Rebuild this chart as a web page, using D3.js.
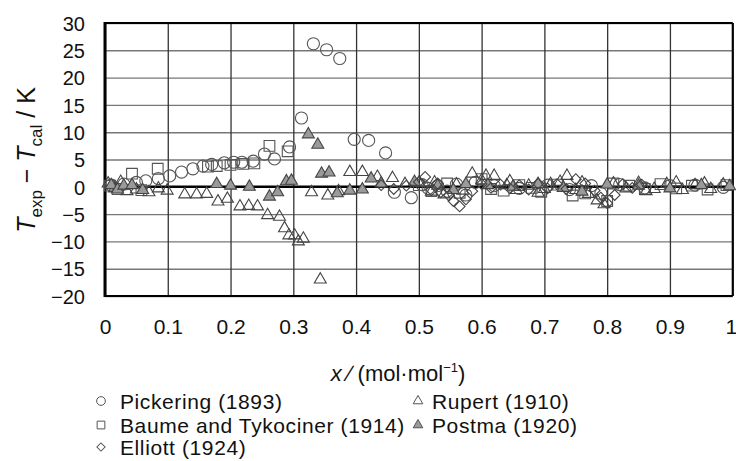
<!DOCTYPE html>
<html>
<head>
<meta charset="utf-8">
<script src="https://cdn.jsdelivr.net/npm/d3@7"></script>
<style>
  body { margin: 0; background: #fff; }
  text { font-family: "Liberation Sans", Arial, sans-serif; fill: #111; }
</style>
</head>
<body>
<script>
// data: [x (mol/mol), Texp - Tcal (K)]
var pickering = [[0.01,0.3],[0.03,0.5],[0.05,0.8],[0.065,1.1],[0.085,1.5],[0.103,2.0],[0.122,2.7],[0.14,3.3],
  [0.156,3.8],[0.17,4.1],[0.19,4.4],[0.205,4.5],[0.218,4.5],[0.236,4.7],[0.254,6.0],[0.27,5.1],[0.294,7.3],
  [0.313,12.6],[0.332,26.2],[0.353,25.1],[0.374,23.5],[0.397,8.7],[0.42,8.5],[0.447,6.2],[0.461,-1.0],[0.488,-2.0],
  [0.505,0.4],[0.515,-0.3],[0.53,0.2],[0.545,-0.8],[0.56,0.5],[0.575,-1.5],[0.59,0.8],[0.62,0.2],[0.66,-0.3],
  [0.705,0.3],[0.74,-0.5],[0.775,0.2],[0.79,-1.2],[0.82,0.4],[0.86,-0.2],[0.9,0.2],[0.94,0.3],[0.985,-0.1]];
var baume = [[0.008,0.2],[0.02,-0.4],[0.043,2.4],[0.058,-0.6],[0.084,3.3],[0.164,3.7],[0.178,3.8],[0.2,4.0],
  [0.22,4.2],[0.238,4.3],[0.262,7.5],[0.291,6.5],[0.5,0.3],[0.52,-0.8],[0.545,0.6],[0.565,-1.1],[0.6,1.4],
  [0.615,-0.4],[0.635,-0.7],[0.66,0.3],[0.68,-0.2],[0.695,-0.9],[0.72,0.4],[0.745,-1.6],[0.765,-1.2],
  [0.8,-2.6],[0.81,0.6],[0.835,0.2],[0.86,-0.4],[0.885,0.5],[0.91,-0.3],[0.935,0.2],[0.96,-0.5],[0.99,0.3]];
var rupert = [[0.005,0.6],[0.015,-0.3],[0.025,0.9],[0.035,-0.8],[0.05,-0.5],[0.07,-1.0],[0.085,-0.3],[0.099,-0.7],
  [0.127,-1.4],[0.146,-1.4],[0.162,-1.3],[0.18,-2.7],[0.195,-2.2],[0.215,-3.6],[0.229,-3.5],[0.243,-3.6],
  [0.259,-5.2],[0.278,-5.5],[0.286,-7.6],[0.293,-8.9],[0.302,-8.9],[0.308,-10.0],[0.316,-9.5],[0.329,-1.0],
  [0.343,-17.0],[0.355,-1.6],[0.372,-0.8],[0.39,2.7],[0.41,2.7],[0.434,1.8],[0.458,1.6],[0.478,0.5],[0.5,0.7],
  [0.52,-0.9],[0.54,-1.4],[0.56,0.4],[0.585,2.4],[0.6,1.2],[0.607,2.0],[0.62,2.0],[0.64,0.3],[0.655,-0.6],
  [0.675,0.2],[0.69,-1.1],[0.71,0.5],[0.736,2.0],[0.75,-0.6],[0.77,-1.3],[0.784,-2.5],[0.795,-3.2],[0.81,0.6],
  [0.83,-0.3],[0.85,0.7],[0.875,-0.4],[0.895,0.5],[0.92,-0.6],[0.94,0.3],[0.965,-0.4],[0.985,0.4],
  [0.525,0.8],[0.57,-0.7],[0.645,1.0],[0.7,-0.4],[0.725,0.9],[0.76,0.8],[0.862,-0.8],[0.91,0.8],[0.955,0.6]];
var postma = [[0.01,0.3],[0.02,-0.5],[0.03,0.2],[0.043,0.3],[0.06,-0.6],[0.178,0.5],[0.2,0.2],[0.23,0.0],
  [0.262,-1.8],[0.275,-1.0],[0.289,1.0],[0.297,1.1],[0.324,9.6],[0.339,7.7],[0.345,2.4],[0.357,2.6],[0.37,-1.2],
  [0.39,-0.7],[0.41,-0.5],[0.424,1.5],[0.44,0.6],[0.493,0.9],[0.53,0.2],[0.555,-0.6],[0.575,0.5],[0.61,0.3],
  [0.65,0.0],[0.69,0.5],[0.73,-0.2],[0.76,-0.9],[0.8,0.4],[0.85,0.2],[0.9,-0.3],[0.95,0.3],[0.995,0.1]];
var elliott = [[0.44,0.3],[0.46,-0.4],[0.48,0.2],[0.5,0.9],[0.51,1.8],[0.52,-0.6],[0.53,0.6],[0.535,-1.0],
  [0.548,-1.6],[0.555,-2.6],[0.565,-3.6],[0.575,-2.3],[0.585,-0.8],[0.6,0.5],[0.615,-0.2],[0.63,0.4],[0.645,-0.3],
  [0.66,0.3],[0.675,-0.5],[0.69,0.6],[0.705,-0.3],[0.72,0.5],[0.735,-0.4],[0.75,1.4],[0.765,0.6],[0.78,-0.7],
  [0.79,-2.0],[0.8,-3.0],[0.812,-1.5],[0.825,0.5],[0.84,-0.2],[0.855,0.4]];

var legendRows = [
  { name: "Pickering (1893)", sym: "circle", col: 0, row: 0 },
  { name: "Rupert (1910)", sym: "tri", col: 1, row: 0 },
  { name: "Baume and Tykociner (1914)", sym: "square", col: 0, row: 1 },
  { name: "Postma (1920)", sym: "triFill", col: 1, row: 1 },
  { name: "Elliott (1924)", sym: "diamond", col: 0, row: 2 }
];

var W = 736, H = 461;
var x0 = 105, x1 = 732.7, yTop = 23, yBot = 296;

var svg = d3.select("body").append("svg").attr("width", W).attr("height", H);

var x = d3.scaleLinear().domain([0, 1]).range([x0, x1]);
var y = d3.scaleLinear().domain([-20, 30]).range([yBot, yTop]);

// horizontal grid
svg.append("g")
  .attr("transform", "translate(" + x0 + ",0)")
  .call(d3.axisLeft(y).tickValues(d3.range(-20, 31, 5)).tickSize(-(x1 - x0)).tickFormat(""))
  .call(function(g) {
    g.select(".domain").remove();
    g.selectAll("line").attr("stroke", "#777").attr("stroke-width", 1.4);
  });

// vertical grid
svg.append("g")
  .attr("transform", "translate(0," + yBot + ")")
  .call(d3.axisBottom(x).tickValues(d3.range(0, 1.01, 0.1)).tickSize(-(yBot - yTop)).tickFormat(""))
  .call(function(g) {
    g.select(".domain").remove();
    g.selectAll("line").attr("stroke", "#333").attr("stroke-width", 1.3);
  });

// frame
svg.append("line").attr("x1", x0).attr("x2", x0).attr("y1", yTop - 1).attr("y2", yBot + 1)
  .attr("stroke", "#000").attr("stroke-width", 3);
svg.append("line").attr("x1", x0).attr("x2", x1).attr("y1", yTop).attr("y2", yTop)
  .attr("stroke", "#000").attr("stroke-width", 2);
svg.append("line").attr("x1", x0).attr("x2", x1).attr("y1", yBot).attr("y2", yBot)
  .attr("stroke", "#000").attr("stroke-width", 1.8);
svg.append("line").attr("x1", x1).attr("x2", x1).attr("y1", yTop).attr("y2", yBot)
  .attr("stroke", "#000").attr("stroke-width", 2);
// zero line
svg.append("line").attr("x1", x0).attr("x2", x1).attr("y1", y(0)).attr("y2", y(0))
  .attr("stroke", "#000").attr("stroke-width", 2.6);

// tick labels
svg.append("g")
  .attr("transform", "translate(" + (x0 - 20) + ",0)")
  .call(d3.axisLeft(y).tickValues(d3.range(-20, 31, 5)).tickSize(0).tickPadding(0))
  .call(function(g) {
    g.select(".domain").remove();
    g.selectAll("text").style("font-size", "20px").attr("dy", "0.36em");
  });

svg.append("g")
  .attr("transform", "translate(0," + (yBot + 23) + ")")
  .call(d3.axisBottom(x).tickValues(d3.range(0, 1.01, 0.1)).tickSize(0).tickPadding(0)
    .tickFormat(function(d) { return d3.format("~g")(+d.toFixed(1)); }))
  .call(function(g) {
    g.select(".domain").remove();
    g.selectAll("text").style("font-size", "21px").attr("dy", "0.71em");
    // last label sits against the right edge
    g.selectAll("text").filter(function(d) { return d > 0.95; })
      .attr("text-anchor", "end").attr("x", 4);
  });

// symbols
function symPath(kind, size) {
  if (kind === "circle") return d3.symbol(d3.symbolCircle, size)();
  if (kind === "square") return d3.symbol(d3.symbolSquare, size)();
  if (kind === "diamond") return d3.symbol(d3.symbolSquare, size)();
  return d3.symbol(d3.symbolTriangle, size)();
}

function drawSeries(data, kind, size, fill, stroke) {
  return svg.append("g").selectAll("path")
    .data(data)
    .enter()
    .append("path")
    .attr("d", symPath(kind, size))
    .attr("transform", function(d) {
      var t = "translate(" + x(d[0]) + "," + y(d[1]) + ")";
      if (kind === "diamond") t += " rotate(45)";
      return t;
    })
    .attr("fill", fill)
    .attr("stroke", stroke)
    .attr("stroke-width", 1.1);
}

drawSeries(pickering, "circle", 115, "none", "#555");
drawSeries(baume, "square", 115, "none", "#555");
drawSeries(rupert, "tri", 62, "none", "#444");
drawSeries(postma, "triFill", 62, "#9a9a9a", "#444");
drawSeries(elliott, "diamond", 58, "none", "#444");

// axis titles
var yt = svg.append("text")
  .attr("transform", "translate(35,160) rotate(-90)")
  .attr("text-anchor", "middle")
  .style("font-size", "25px");
yt.append("tspan").style("font-style", "italic").text("T");
yt.append("tspan").attr("dy", 7).style("font-size", "17px").text("exp");
yt.append("tspan").attr("dy", -7).text(" \u2212 ");
yt.append("tspan").style("font-style", "italic").text("T");
yt.append("tspan").attr("dy", 7).style("font-size", "17px").text("cal");
yt.append("tspan").attr("dy", -7).text(" / K");

var xt = svg.append("text")
  .attr("x", 398).attr("y", 381)
  .attr("text-anchor", "middle")
  .style("font-size", "22px");
xt.append("tspan").style("font-style", "italic").text("x");
xt.append("tspan").text(" \u2215 (mol\u00b7mol");
xt.append("tspan").attr("dy", -9).style("font-size", "13px").text("\u22121");
xt.append("tspan").attr("dy", 9).text(")");

// legend
var colSym = [101, 418], colText = [120, 432], rowY = [401, 425, 447];
var leg = svg.append("g").selectAll("g")
  .data(legendRows)
  .enter()
  .append("g")
  .attr("transform", function(d) { return "translate(0," + rowY[d.row] + ")"; });

leg.append("path")
  .attr("d", function(d) { return symPath(d.sym, d.sym === "circle" ? 60 : d.sym === "square" ? 60 : d.sym === "diamond" ? 34 : 40); })
  .attr("transform", function(d) {
    return "translate(" + colSym[d.col] + ",0)" + (d.sym === "diamond" ? " rotate(45)" : "");
  })
  .attr("fill", function(d) { return d.sym === "triFill" ? "#999" : "none"; })
  .attr("stroke", "#555")
  .attr("stroke-width", 1);

leg.append("text")
  .attr("x", function(d) { return colText[d.col]; })
  .attr("dy", "0.36em")
  .style("font-size", "21px")
  .style("letter-spacing", "0.6px")
  .text(function(d) { return d.name; });
</script>
</body>
</html>
